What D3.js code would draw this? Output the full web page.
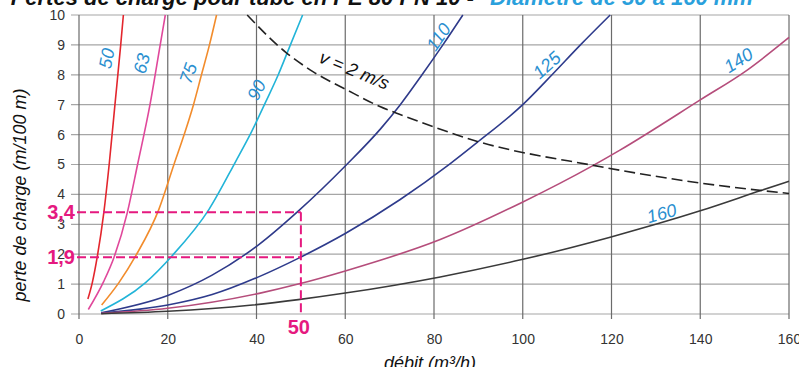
<!DOCTYPE html>
<html>
<head>
<meta charset="utf-8">
<script src="https://cdn.jsdelivr.net/npm/d3@7"></script>
<style>
  body { margin: 0; background: #fff; overflow: hidden; }
  svg { display: block; font-family: Arial, "Liberation Sans", sans-serif; }
</style>
</head>
<body>
<script>
// ticks
var xTicks = [0, 20, 40, 60, 80, 100, 120, 140, 160];
var yTicks = [0, 1, 2, 3, 4, 5, 6, 7, 8, 9, 10];

// pipe outer diameters (mm)
var diameters = [50, 63, 75, 90, 110, 125, 140, 160];

// [débit m3/h, perte de charge m/100 m]
var dn50 = [[2, 0.5], [3, 1.05], [4.1, 1.9], [5.6, 3.4], [6.8, 5], [8.1, 7], [9.4, 9], [10, 10]];
var dn63 = [[2.1, 0.15], [5.6, 1.1], [7.9, 1.9], [10.9, 3.4], [13.2, 5], [16.0, 7], [18.3, 9], [19.45, 10]];
var dn75 = [[5.1, 0.3], [9, 1.05], [12.8, 1.95], [18, 3.5], [21.4, 5], [23.7, 6], [25.8, 7], [27.6, 8], [29.4, 9], [31, 10]];
var dn90 = [[4.9, 0.1], [15, 1.05], [21, 1.95], [29.3, 3.5], [35.3, 5.1], [38.9, 6.1], [42.1, 7.1], [44.9, 8], [47.5, 8.95], [50.4, 10]];
var dn110 = [[5, 0.04], [20, 0.62], [30, 1.3], [40.6, 2.33], [49.4, 3.44], [60, 4.95], [68, 6.2], [72.4, 7], [77.3, 8], [82, 9], [86.5, 10]];
var dn125 = [[5, 0.03], [20, 0.3], [30, 0.65], [40.6, 1.25], [49.4, 1.86], [60, 2.69], [72.3, 3.82], [83.6, 5.02], [89.6, 5.72], [100, 7], [106.6, 8], [113, 9], [119.7, 10]];
var dn140 = [[5, 0.02], [20, 0.19], [40.6, 0.69], [49.4, 1], [60, 1.44], [81.4, 2.49], [99.8, 3.73], [115.9, 4.97], [121.9, 5.48], [140, 7.16], [150.5, 8.15], [160, 9.25]];
var dn160 = [[5, 0.01], [20, 0.09], [38.5, 0.29], [49.4, 0.48], [60, 0.7], [81.4, 1.24], [99.8, 1.82], [119.7, 2.57], [140, 3.45], [153.5, 4.12], [160, 4.44]];
var curves = [dn50, dn63, dn75, dn90, dn110, dn125, dn140, dn160];

// v = 2 m/s line
var v2ms = [[37.9, 10], [46.6, 8.75], [52.8, 8.1], [60.3, 7.5], [67.8, 6.94], [74.6, 6.55], [89.6, 5.78], [115.9, 4.97], [140, 4.38], [160, 4.03]];

// worked example
var exampleQ = 50;
var exampleJ = [3.4, 1.9];
var exampleLabels = ["3,4", "1,9"];

// diameter label anchors [débit, perte] and their tilt
var labelAt = [[6.2, 8.55], [14.1, 8.38], [24.6, 8.05], [40.0, 7.49], [81.0, 9.27], [105.4, 8.33], [148.6, 8.49], [131.3, 3.37]];
var labelTilt = [-79, -76, -71, -63, -55, -42, -32, -15];

var colors = ["#e3262d", "#e0489b", "#f28c2c", "#22b4d8", "#2f3a8a", "#2e3b8c", "#b54d7b", "#3a3a3a"];

var w = 799, h = 367;
var svg = d3.select("body").append("svg")
    .attr("width", w)
    .attr("height", h);

var x = d3.scaleLinear().domain([0, 160]).range([79, 789]);
var y = d3.scaleLinear().domain([0, 10]).range([314, 15]);

// title (top part cut off in the picture)
svg.append("text")
    .attr("x", 474).attr("y", 5)
    .attr("text-anchor", "end")
    .style("font-size", "22px").style("font-weight", "bold").style("font-style", "italic")
    .attr("fill", "#111")
    .text("Pertes de charge pour tube en PE 80 PN 10 -");
svg.append("text")
    .attr("x", 490).attr("y", 5)
    .style("font-size", "22px").style("font-weight", "bold").style("font-style", "italic")
    .attr("fill", "#2aa0dc")
    .text("Diamètre de 50 à 160 mm");

// grid
svg.append("g").selectAll("line").data(yTicks).enter().append("line")
    .attr("x1", x(0) - 8).attr("x2", x(160))
    .attr("y1", d => y(d)).attr("y2", d => y(d))
    .attr("stroke", "#a6a6a6").attr("stroke-width", 1.2);
svg.append("g").selectAll("line").data(xTicks).enter().append("line")
    .attr("x1", d => x(d)).attr("x2", d => x(d))
    .attr("y1", y(10)).attr("y2", y(0) + 5)
    .attr("stroke", "#6b6b6b").attr("stroke-width", 1.2);

// axes labels
var xAxis = svg.append("g").attr("transform", "translate(0," + (y(0) + 5) + ")")
    .call(d3.axisBottom(x).tickValues(xTicks).tickSize(0).tickPadding(15));
var yAxis = svg.append("g").attr("transform", "translate(" + (x(0) - 10) + ",0)")
    .call(d3.axisLeft(y).tickValues(yTicks).tickSize(0).tickPadding(4));
[xAxis, yAxis].forEach(function (g) {
    g.select(".domain").remove();
    g.selectAll("text").style("font-size", "14px").style("font-family", "Arial, 'Liberation Sans', sans-serif").attr("fill", "#333");
});

// curves
var line = d3.line()
    .x(d => x(d[0]))
    .y(d => y(d[1]))
    .curve(d3.curveMonotoneX);

svg.append("g").selectAll("path").data(curves).enter().append("path")
    .attr("d", line)
    .attr("fill", "none")
    .attr("stroke", (d, i) => colors[i])
    .attr("stroke-width", 1.6);

// v = 2 m/s
svg.append("path").datum(v2ms)
    .attr("d", line)
    .attr("fill", "none")
    .attr("stroke", "#222")
    .attr("stroke-width", 1.6)
    .attr("stroke-dasharray", "11,5");
svg.append("text")
    .attr("transform", "translate(" + 352 + "," + 76 + ") rotate(22.5)")
    .attr("text-anchor", "middle")
    .style("font-size", "18px").style("font-style", "italic")
    .attr("fill", "#111")
    .text("v = 2 m/s");

// diameter labels
svg.append("g").selectAll("text").data(diameters).enter().append("text")
    .attr("transform", (d, i) => "translate(" + x(labelAt[i][0]) + "," + y(labelAt[i][1]) + ") rotate(" + labelTilt[i] + ")")
    .attr("text-anchor", "middle")
    .attr("dy", "0.35em")
    .style("font-size", "18px").style("font-style", "italic")
    .attr("fill", "#2a8fd0")
    .text(d => d);

// worked example in magenta
var pink = "#e5197f";
var ex = svg.append("g");
ex.selectAll("line.h").data(exampleJ).enter().append("line")
    .attr("x1", x(0) - 2).attr("x2", x(exampleQ))
    .attr("y1", d => y(d)).attr("y2", d => y(d))
    .attr("stroke", pink).attr("stroke-width", 2)
    .attr("stroke-dasharray", "9,4");
ex.append("line")
    .attr("x1", x(exampleQ)).attr("x2", x(exampleQ))
    .attr("y1", y(d3.max(exampleJ))).attr("y2", y(0))
    .attr("stroke", pink).attr("stroke-width", 2)
    .attr("stroke-dasharray", "9,4");
ex.selectAll("text.j").data(exampleJ).enter().append("text")
    .attr("x", x(0) - 4)
    .attr("y", d => y(d) + 7)
    .attr("text-anchor", "end")
    .style("font-size", "20px").style("font-weight", "bold")
    .attr("fill", pink)
    .text((d, i) => exampleLabels[i]);
ex.append("text")
    .attr("x", x(exampleQ) - 2).attr("y", 334)
    .attr("text-anchor", "middle")
    .style("font-size", "20px").style("font-weight", "bold")
    .attr("fill", pink)
    .text(exampleQ);

// axis titles
svg.append("text")
    .attr("transform", "translate(26,195) rotate(-90)")
    .attr("text-anchor", "middle")
    .style("font-size", "18px").style("font-style", "italic")
    .attr("fill", "#111")
    .text("perte de charge (m/100 m)");
svg.append("text")
    .attr("x", 430).attr("y", 369)
    .attr("text-anchor", "middle")
    .style("font-size", "18px").style("font-style", "italic")
    .attr("fill", "#111")
    .text("débit (m³/h)");
</script>
</body>
</html>
